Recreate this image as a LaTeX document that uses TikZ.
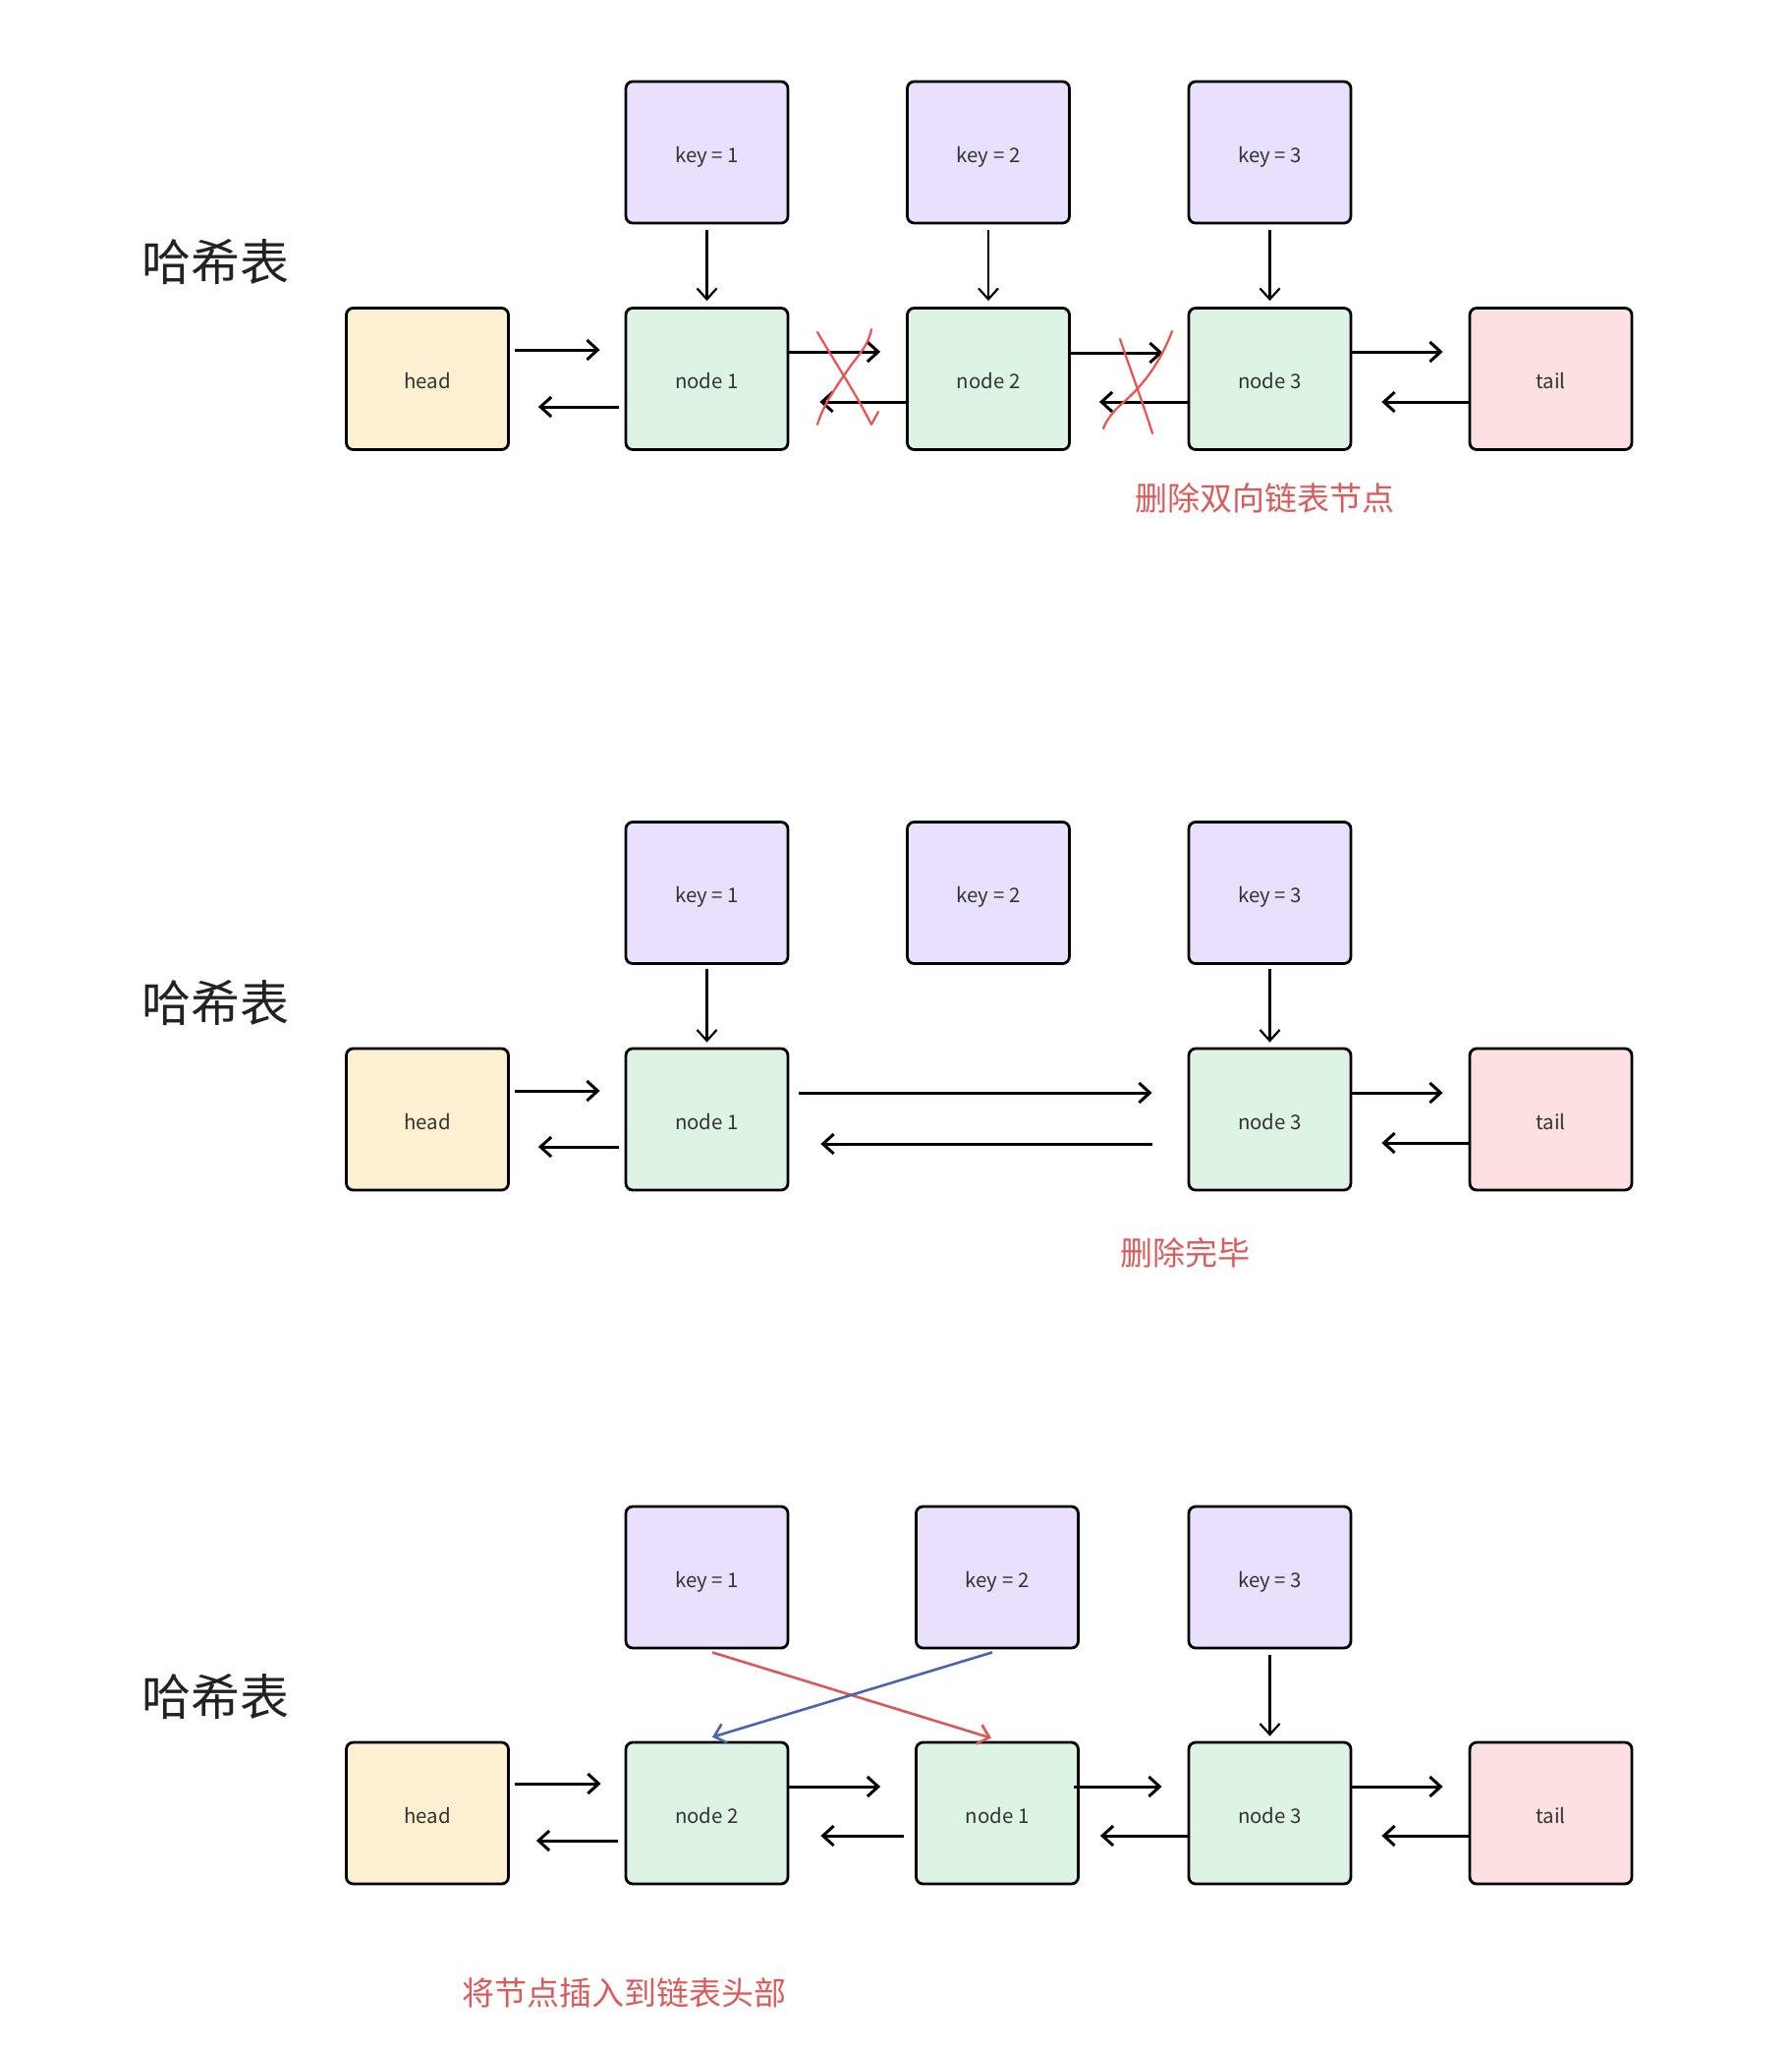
\documentclass[tikz,border=0pt]{standalone}
\usepackage{fontspec}
\setmainfont{Noto Sans CJK SC}
\usetikzlibrary{arrows.meta,calc}
\definecolor{keyc}{HTML}{E8E0FD}
\definecolor{nodec}{HTML}{DDF3E3}
\definecolor{headc}{HTML}{FDF0D1}
\definecolor{tailc}{HTML}{FDE1E2}
\definecolor{labc}{HTML}{333333}
\definecolor{titc}{HTML}{222222}
\definecolor{redtxt}{HTML}{DB5B5B}
\definecolor{xred}{HTML}{F0504C}
\definecolor{arrred}{HTML}{D9585A}
\definecolor{arrblue}{HTML}{4C63B0}
\tikzset{
  box/.style={draw=black, line width=1.4pt, rounded corners=3.5pt,
    minimum width=82.5pt, minimum height=72pt, inner sep=0pt,
    text height=1.2em, text depth=0.2em,
    text=labc, font=\fontsize{10.2}{12}\selectfont},
  keybox/.style={box, fill=keyc},
  nodebox/.style={box, fill=nodec},
  headbox/.style={box, fill=headc},
  tailbox/.style={box, fill=tailc},
  arr/.style={-{Straight Barb[length=5.5pt,width=10pt]}, line width=1.5pt},
  varr/.style={-{Straight Barb[length=5.5pt,width=10pt]}, line width=1.1pt},
  carr/.style={-{Straight Barb[length=5.5pt,width=10pt]}, line width=1.3pt},
  title/.style={text=titc, font=\fontsize{25}{30}\selectfont},
  note/.style={text=redtxt, font=\fontsize{16.5}{20}\selectfont},
  xmark/.style={draw=xred, line width=1.1pt, line cap=round, line join=round}
}
\begin{document}
\begin{tikzpicture}[x=0.5pt,y=-0.5pt]
\useasboundingbox[fill=white] (0,0) rectangle (1824,2084);

% ---------------- Section 1 ----------------
\node[title] (ti1) at (219,267) {哈希表};
\node[keybox] (k11) at (719.5,155) {key = 1};
\node[keybox] (k12) at (1006,155) {key = 2};
\node[keybox] (k13) at (1292.5,155) {key = 3};
\node[headbox] (h1) at (435,385.5) {head};
\node[nodebox] (n11) at (719.5,385.5) {node 1};
\node[nodebox] (n12) at (1006,385.5) {node 2};
\node[nodebox] (n13) at (1292.5,385.5) {node 3};
\node[tailbox] (t1) at (1578.5,385.5) {tail};

\draw[varr] ($(k11.south)+(0,6)$) -- ($(n11.north)+(0,-6)$);
\draw[varr] ($(k12.south)+(0,6)$) -- ($(n12.north)+(0,-6)$);
\draw[varr] ($(k13.south)+(0,6)$) -- ($(n13.north)+(0,-6)$);

\draw[arr] ($(h1.east)+(5,-29.5)$) -- ($(n11.west)+(-25,-29.5)$);
\draw[arr] ($(n11.west)+(-6,28.5)$) -- ($(h1.east)+(29,28.5)$);
\draw[arr] ($(n11.east)+(0,-27.5)$) -- ($(n12.west)+(-26,-27.5)$);
\draw[arr] ($(n12.west)+(0,23.5)$) -- ($(n11.east)+(31,23.5)$);
\draw[arr] ($(n12.east)+(0,-26.5)$) -- ($(n13.west)+(-25,-26.5)$);
\draw[arr] ($(n13.west)+(0,23.5)$) -- ($(n12.east)+(29,23.5)$);
\draw[arr] ($(n13.east)+(0,-27.5)$) -- ($(t1.west)+(-26,-27.5)$);
\draw[arr] ($(t1.west)+(0,23.5)$) -- ($(n13.east)+(30,23.5)$);

% red crosses
\path[xmark] (832,338) .. controls (852,372) and (872,402) .. (887,432) -- (894,419);
\path[xmark] (887,335) .. controls (884,350) and (878,356) .. (866,372) .. controls (850,395) and (838,412) .. (832,432);
\path[xmark] (1140,345) .. controls (1152,380) and (1165,415) .. (1173,441);
\path[xmark] (1193,337) .. controls (1180,372) and (1160,395) .. (1145,408) .. controls (1133,418) and (1126,428) .. (1123,436);

\node[note] (r1) at (1287,507) {删除双向链表节点};

% ---------------- Section 2 ----------------
\node[title] (ti2) at (219,1021) {哈希表};
\node[keybox] (k21) at (719.5,908.5) {key = 1};
\node[keybox] (k22) at (1006,908.5) {key = 2};
\node[keybox] (k23) at (1292.5,908.5) {key = 3};
\node[headbox] (h2) at (435,1139) {head};
\node[nodebox] (n21) at (719.5,1139) {node 1};
\node[nodebox] (n23) at (1292.5,1139) {node 3};
\node[tailbox] (t2) at (1578.5,1139) {tail};

\draw[varr] ($(k21.south)+(0,4)$) -- ($(n21.north)+(0,-5)$);
\draw[varr] ($(k23.south)+(0,4)$) -- ($(n23.north)+(0,-5)$);

\draw[arr] ($(h2.east)+(5,-29)$) -- ($(n21.west)+(-25,-29)$);
\draw[arr] ($(n21.west)+(-6,28)$) -- ($(h2.east)+(29,28)$);
\draw[arr] ($(n21.east)+(10,-27)$) -- ($(n23.west)+(-36,-27)$);
\draw[arr] ($(n23.west)+(-36,25)$) -- ($(n21.east)+(32,25)$);
\draw[arr] ($(n23.east)+(0,-27)$) -- ($(t2.west)+(-26,-27)$);
\draw[arr] ($(t2.west)+(0,24)$) -- ($(n23.east)+(30,24)$);

\node[note] (r2) at (1206,1275) {删除完毕};

% ---------------- Section 3 ----------------
\node[title] (ti3) at (219,1727) {哈希表};
\node[keybox] (k31) at (719.5,1605) {key = 1};
\node[keybox] (k32) at (1015,1605) {key = 2};
\node[keybox] (k33) at (1292.5,1605) {key = 3};
\node[headbox] (h3) at (435,1845) {head};
\node[nodebox] (n32) at (719.5,1845) {node 2};
\node[nodebox] (n31) at (1015,1845) {node 1};
\node[nodebox] (n33) at (1292.5,1845) {node 3};
\node[tailbox] (t3) at (1578.5,1845) {tail};

\draw[varr] ($(k33.south)+(0,6)$) -- ($(n33.north)+(0,-5)$);
\draw[carr, draw=arrred] ($(k31.south)+(5.5,3)$) -- ($(n31.north)+(-6,-3)$);
\draw[carr, draw=arrblue] ($(k32.south)+(-5,3)$) -- ($(n32.north)+(5.5,-4)$);

\draw[arr] ($(h3.east)+(5,-30)$) -- ($(n32.west)+(-24,-30)$);
\draw[arr] ($(n32.west)+(-7,28)$) -- ($(h3.east)+(27,28)$);
\draw[arr] ($(n32.east)+(0,-27)$) -- ($(n31.west)+(-35,-27)$);
\draw[arr] ($(n31.west)+(-11,23)$) -- ($(n32.east)+(32,23)$);
\draw[arr] ($(n31.east)+(-6,-27)$) -- ($(n33.west)+(-26,-27)$);
\draw[arr] ($(n33.west)+(0,23)$) -- ($(n31.east)+(21,23)$);
\draw[arr] ($(n33.east)+(0,-27)$) -- ($(t3.west)+(-26,-27)$);
\draw[arr] ($(t3.west)+(0,23)$) -- ($(n33.east)+(30,23)$);

\node[note] (r3) at (635,2028) {将节点插入到链表头部};
\end{tikzpicture}
\end{document}
